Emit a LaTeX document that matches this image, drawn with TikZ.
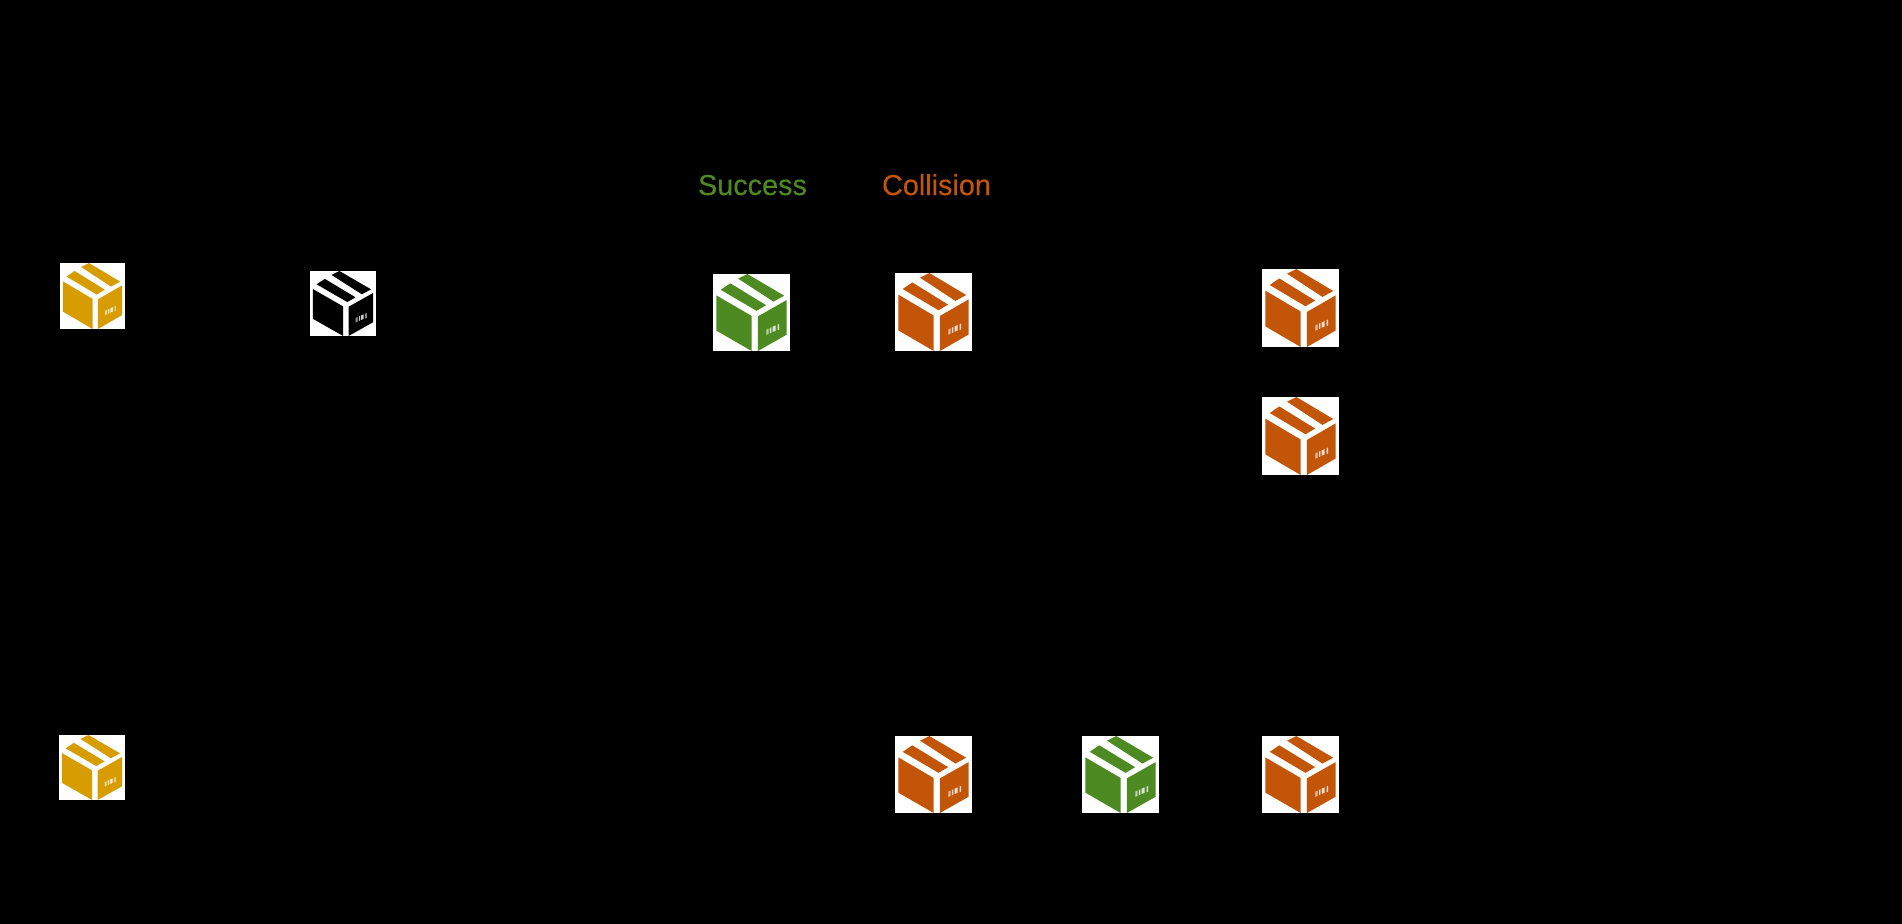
\documentclass[tikz,border=0pt]{standalone}
\usepackage{fontspec}
\setmainfont{Liberation Sans}
\newfontfamily\labelfont[FakeBold=0.25]{Liberation Sans}
\definecolor{cargoyellow}{HTML}{D69C00}
\definecolor{cargogreen}{HTML}{4E8A22}
\definecolor{cargoorange}{HTML}{C25508}
\definecolor{cargoblack}{HTML}{000000}
\tikzset{
  cargobox/.style={fill=white,draw=none,inner sep=0pt,outer sep=0pt,anchor=north west},
  label text/.style={inner sep=0pt,anchor=base,font=\labelfont\fontsize{28.8}{32}\selectfont}
}
% name, left, top, width, height, colour
\newcommand{\cargoicon}[6]{%
  \node[cargobox,minimum width=#4pt,minimum height=#5pt] (#1) at (#2,#3) {};
  \begin{scope}[shift={(#2,#3)},x=#4pt,y=-#5pt]
    \fill[#6] (.446,0) -- (.925,.282) -- (.785,.358) -- (.325,.060) -- cycle;
    \fill[#6] (.225,.121) -- (.690,.405) -- (.565,.478) -- (.100,.205) -- cycle;
    \fill[#6] (.043,.277) -- (.502,.545) -- (.502,1) -- (.043,.735) -- cycle;
    \fill[#6] (.584,.550) -- (.957,.338) -- (.957,.788) -- (.584,1) -- cycle;
    \fill[white,opacity=.6] (.693,.723) -- (.723,.708) -- (.723,.777) -- (.693,.792) -- cycle;
    \fill[white,opacity=.8] (.740,.700) -- (.758,.692) -- (.758,.761) -- (.740,.769) -- cycle;
    \fill[white,opacity=.8] (.775,.684) -- (.814,.667) -- (.814,.736) -- (.775,.753) -- cycle;
    \fill[white,opacity=.8] (.840,.656) -- (.857,.649) -- (.857,.723) -- (.840,.730) -- cycle;
  \end{scope}}
\begin{document}
\begin{tikzpicture}[x=1pt,y=-1pt]
  \useasboundingbox (0,0) rectangle (1902,923);
  \fill[black] (-6,-6) rectangle (1908,929);
  \node[label text,text=cargogreen] (success) at (752.5,195) {Success};
  \node[label text,text=cargoorange] (collision) at (936.5,195) {Collision};
  \cargoicon{ya}{60}{263}{65}{66}{cargoyellow}
  \cargoicon{ka}{310}{271}{66}{65}{cargoblack}
  \cargoicon{ga}{713}{274}{77}{77}{cargogreen}
  \cargoicon{oa}{895}{273}{77}{78}{cargoorange}
  \cargoicon{ob}{1262}{269}{77}{78}{cargoorange}
  \cargoicon{oc}{1262}{397}{77}{78}{cargoorange}
  \cargoicon{yb}{59}{735}{66}{65}{cargoyellow}
  \cargoicon{od}{895}{736}{77}{77}{cargoorange}
  \cargoicon{gb}{1082}{736}{77}{77}{cargogreen}
  \cargoicon{oe}{1262}{736}{77}{77}{cargoorange}
\end{tikzpicture}
\end{document}
